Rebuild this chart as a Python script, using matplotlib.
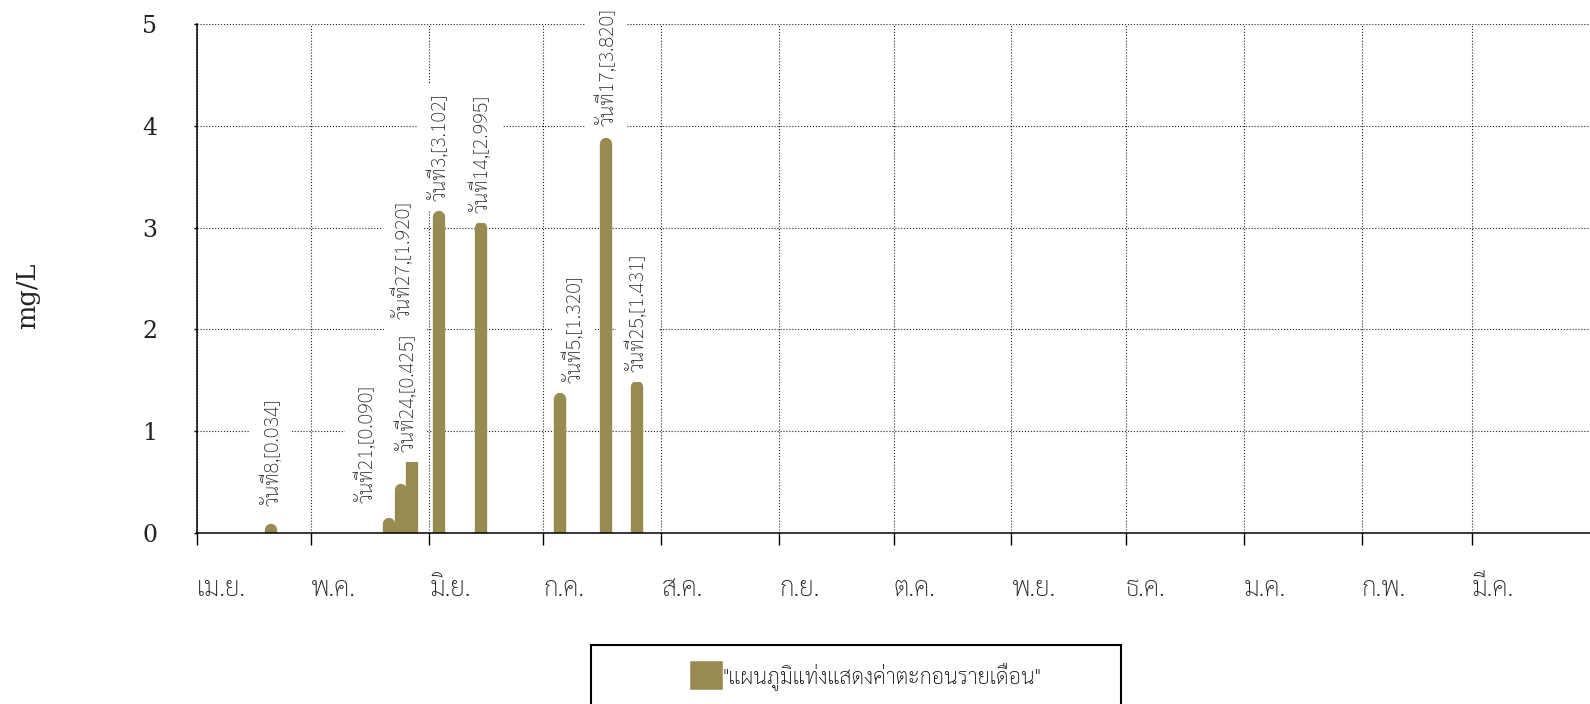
import matplotlib

matplotlib.use("Agg")

import matplotlib.pyplot as plt
import matplotlib.transforms as mtransforms
import pandas as pd
from matplotlib.patches import Patch, Rectangle

# sampling dates (bar positions) and values, mg/L
sample_dates = ["2023-04-20", "2023-05-21", "2023-05-24", "2023-05-27", "2023-06-03",
                "2023-06-14", "2023-07-05", "2023-07-17", "2023-07-25"]
label_days = [8, 21, 24, 27, 3, 14, 5, 17, 25]
sediment = [0.034, 0.090, 0.425, 1.920, 3.102, 2.995, 1.320, 3.820, 1.431]
month_labels = ["เม.ย.", "พ.ค.", "มิ.ย.", "ก.ค.", "ส.ค.", "ก.ย.",
                "ต.ค.", "พ.ย.", "ธ.ค.", "ม.ค.", "ก.พ.", "มี.ค."]
y_ticks = [0, 1, 2, 3, 4, 5]
legend_label = '"แผนภูมิแท่งแสดงค่าตะกอนรายเดือน"'

BAR = "#978b52"
INK = "#222222"
THAI = ["Sarabun", "DejaVu Sans"]
SERIF = ["Roboto Slab", "DejaVu Serif"]
# offsets (points) the labeller used to keep the texts apart
label_dx = [0, -17, 4, -7, 0, 0, 9, 0, 0]
label_dy = [17, 15, 27, 13, 12, 11, 11, 13, 11]

fig = plt.figure(figsize=(15.9, 7.04), dpi=100)
ax = fig.add_axes([197 / 1590, 171 / 704, 1393 / 1590, 509 / 704])

x = pd.to_datetime(sample_dates) + pd.Timedelta(hours=12)
bars = ax.vlines(x, 0, sediment, color=BAR, linewidth=8.9, zorder=3)
bars.set_capstyle("round")

for xi, v, d, dx, dy in zip(x, sediment, label_days, label_dx, label_dy):
    ax.annotate(f"วันที่{d},[{v:.3f}]", xy=(xi, v), xytext=(dx, dy), textcoords="offset points",
                rotation=90, ha="center", va="bottom", fontsize=14.3, family=THAI, fontweight="light",
                color=INK, bbox=dict(facecolor="white", edgecolor="none", pad=7),
                annotation_clip=False, zorder=5)

months = pd.date_range("2023-04-01", periods=12, freq="MS")
ax.set_xlim(pd.Timestamp("2023-04-01"), pd.Timestamp("2024-04-01"))
ax.set_xticks(months)
ax.set_xticklabels(month_labels, ha="left", family=THAI, fontweight="light", fontsize=19, color=INK)
shift = mtransforms.ScaledTranslation(3 / 100, 0, fig.dpi_scale_trans)
for lbl in ax.get_xticklabels():
    lbl.set_transform(lbl.get_transform() + shift)
ax.set_ylim(0, 5)
ax.set_yticks(y_ticks)
ax.set_yticklabels([str(t) for t in y_ticks], family=SERIF, fontweight="light", fontsize=17, color=INK)

ax.tick_params(axis="x", direction="out", length=8.5, width=1, pad=22)
ax.tick_params(axis="y", direction="out", length=2.5, width=1, pad=26)
ax.grid(True, color=INK, linestyle=":", linewidth=0.8, zorder=0)
ax.set_axisbelow(True)
for side in ("top", "right"):
    ax.spines[side].set_visible(False)
for side in ("left", "bottom"):
    ax.spines[side].set_linewidth(1.1)
    ax.spines[side].set_zorder(4)

fig.text(27.5 / 1590, 1 - 296 / 704, "mg/L", rotation=90, ha="center", va="center",
         family=SERIF, fontweight="light", fontsize=18.5, color=INK)

fig.add_artist(Rectangle((591 / 1590, 1 - 708 / 704), 530 / 1590, 63 / 704,
                         transform=fig.transFigure, fill=False, edgecolor="black", linewidth=1.5))
fig.legend(handles=[Patch(facecolor=BAR, edgecolor=BAR, linewidth=4, joinstyle="round", label=legend_label)],
           loc="center", bbox_to_anchor=(867 / 1590, 1 - 676 / 704), frameon=False,
           prop={"family": THAI, "weight": "light", "size": 15.6},
           handlelength=1.25, handleheight=1.25, handletextpad=0.12)

fig.savefig("out.png", dpi=100)
